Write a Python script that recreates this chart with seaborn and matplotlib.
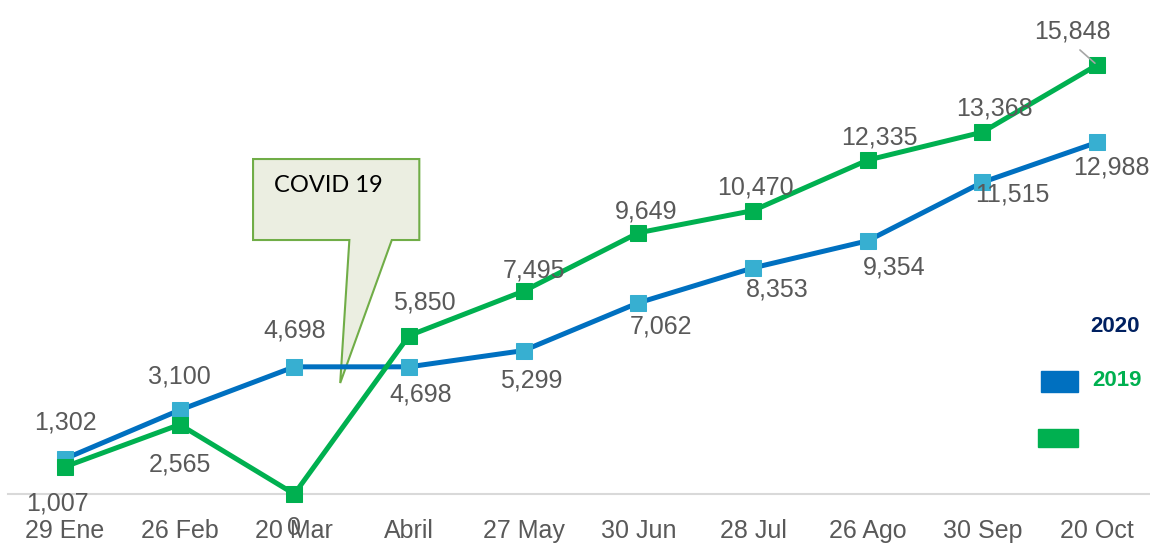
import seaborn as sns
import pandas as pd
import numpy as np
import matplotlib.pyplot as plt
from matplotlib.patches import Polygon, Rectangle

sns.set_style("white")
plt.rcParams['font.family'] = ['Liberation Sans', 'DejaVu Sans']

# Data
fechas = ["29 Ene", "26 Feb", "20 Mar", "Abril", "27 May", "30 Jun",
          "28 Jul", "26 Ago", "30 Sep", "20 Oct"]
serie_2019 = [1302, 3100, 4698, 4698, 5299, 7062, 8353, 9354, 11515, 12988]
serie_2020 = [1007, 2565, 0, 5850, 7495, 9649, 10470, 12335, 13368, 15848]

# label offsets in pixels (dx, dy) from each point
off_2019 = [(0, 36), (0, 34), (0, 36), (12, -28), (8, -30), (23, -24),
            (24, -22), (27, -27), (30, -12), (14, -25)]
off_2020 = [(-8, -37), (0, -40), (0, -34), (15, 33), (10, 21), (8, 21),
            (2, 23), (12, 23), (12, 24), (-25, 34)]

df = pd.DataFrame({"pos": np.arange(len(fechas)), "fecha": fechas,
                   "y2019": serie_2019, "y2020": serie_2020})

fig = plt.figure(figsize=(11.5, 5.44), dpi=100)
ax = fig.add_axes([8 / 1150, 50 / 544, 1 - 8 / 1150, 1 - 50 / 544])

sns.lineplot(data=df, x="pos", y="y2019", ax=ax, color="#0070C0", lw=3.6,
             marker="s", markersize=11, markerfacecolor="#37AFD1",
             markeredgecolor="#37AFD1", clip_on=False, zorder=3)
sns.lineplot(data=df, x="pos", y="y2020", ax=ax, color="#00B050", lw=3.6,
             marker="s", markersize=11, markerfacecolor="#00B050",
             markeredgecolor="#00B050", clip_on=False, zorder=4)

ax.set_xlim(-0.497, 9.462)
ax.set_ylim(0, 18250)
ax.set_xlabel("")
ax.set_ylabel("")
ax.set_yticks([])
ax.set_xticks(df["pos"])
ax.set_xticklabels(fechas, fontsize=18, color="#595959")
ax.tick_params(axis="x", length=0, pad=18)
for s in ["top", "left", "right"]:
    ax.spines[s].set_visible(False)
ax.spines["bottom"].set_color("#D9D9D9")
ax.spines["bottom"].set_linewidth(1.5)
ax.spines["bottom"].set_zorder(1)

px = 0.72  # points per pixel
for i, (v, (dx, dy)) in enumerate(zip(serie_2019, off_2019)):
    ax.annotate(f"{v:,}", (i, v), xytext=(dx * px, dy * px), textcoords="offset points",
                ha="center", va="center", fontsize=18, color="#595959", zorder=5)
for i, (v, (dx, dy)) in enumerate(zip(serie_2020, off_2020)):
    if i == len(serie_2020) - 1:
        ax.annotate(f"{v:,}", (i, v), xytext=(dx * px, dy * px), textcoords="offset points",
                    ha="center", va="center", fontsize=18, color="#595959", zorder=5,
                    arrowprops=dict(arrowstyle="-", color="#A6A6A6", lw=1.2,
                                    relpos=(0.5, 0), shrinkA=4, shrinkB=2))
    else:
        ax.annotate(f"{v:,}", (i, v), xytext=(dx * px, dy * px), textcoords="offset points",
                    ha="center", va="center", fontsize=18, color="#595959", zorder=5)

# COVID 19 callout (data coords)
callout = Polygon([(1.64, 12375), (3.09, 12375), (3.09, 9383), (2.85, 9383),
                   (2.40, 4100), (2.48, 9383), (1.64, 9383)],
                  closed=True, facecolor="#EBEEE1", edgecolor="#70AD47", lw=1.5, zorder=2)
ax.add_patch(callout)
ax.text(1.82, 11400, "COVID 19", fontsize=17, color="black", family=["Lato", "DejaVu Sans"],
        va="center", ha="left", zorder=3)

# legend, laid out as in the original
fig.text(1115 / 1150, 1 - 327 / 544, "2020", fontsize=16, fontweight="bold",
         color="#002060", ha="center", va="center")
fig.text(1117 / 1150, 1 - 381 / 544, "2019", fontsize=16, fontweight="bold",
         color="#00B050", ha="center", va="center")
fig.patches.append(Rectangle((1041 / 1150, 1 - 392 / 544), 37 / 1150, 21 / 544,
                             transform=fig.transFigure, color="#0070C0"))
fig.patches.append(Rectangle((1038 / 1150, 1 - 447 / 544), 40 / 1150, 18 / 544,
                             transform=fig.transFigure, color="#00B050"))

plt.savefig("out.png", dpi=100)
